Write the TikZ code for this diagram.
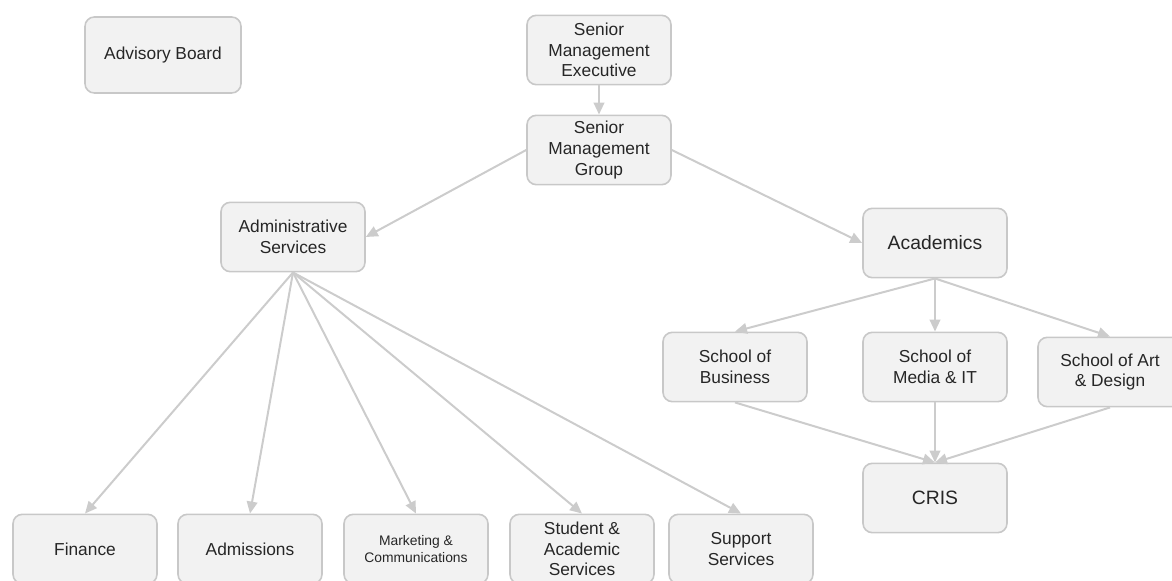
\documentclass[tikz,border=0pt]{standalone}
\usepackage{fontspec}
\setmainfont{Liberation Sans}
\usetikzlibrary{arrows.meta}
\definecolor{boxfill}{HTML}{F2F2F2}
\definecolor{boxline}{HTML}{C8C8C8}
\definecolor{linkgray}{HTML}{CCCCCC}
\tikzset{
  unit/.style={draw=boxline, fill=boxfill, line width=1.2pt, rounded corners=7pt,
    minimum width=108pt, minimum height=52pt, align=center, text=black!85,
    font=\fontsize{13}{15.6}\selectfont},
  link/.style={draw=linkgray, line width=1.5pt, -{Triangle[length=9pt,width=8pt]}}
}
\begin{document}
\begin{tikzpicture}[x=0.75pt,y=-0.75pt]
        \clip (0,0) rectangle (1172,581);
        % top
        \node[unit, minimum width=117pt, minimum height=57pt] (advisory) at (163,55) {Advisory Board};
        \node[unit] (sme) at (599,50) {Senior\\Management\\Executive};
        \node[unit] (smg) at (599,150) {Senior\\Management\\Group};
        \node[unit] (admin) at (293,237) {Administrative\\Services};
        \node[unit, font=\fontsize{14.5}{17}\selectfont] (acad) at (935,243) {Academics};
        % schools
        \node[unit] (business) at (735,367) {School of\\Business};
        \node[unit] (media) at (935,367) {School of\\Media \& IT};
        \node[unit] (art) at (1110,372) {School of Art\\\& Design};
        \node[unit, font=\fontsize{14.5}{17}\selectfont] (cris) at (935,498) {CRIS};
        % services
        \node[unit] (finance) at (85,549) {Finance};
        \node[unit] (admissions) at (250,549) {Admissions};
        \node[unit, font=\fontsize{10.4}{12.5}\selectfont] (marketing) at (416,549) {Marketing \&\\Communications};
        \node[unit] (student) at (582,549) {Student \&\\Academic\\Services};
        \node[unit] (support) at (741,549) {Support\\Services};

        \draw[link] (sme) -- (smg);
        \draw[link] (smg.west) -- (admin.east);
        \draw[link] (smg.east) -- (acad.west);
        \foreach \n in {finance, admissions, marketing, student, support} {
          \draw[link] (admin.south) -- (\n.north);
        }
        \foreach \n in {business, media, art} {
          \draw[link] (acad.south) -- (\n.north);
          \draw[link] (\n.south) -- (cris.north);
        }
      \end{tikzpicture}
\end{document}
